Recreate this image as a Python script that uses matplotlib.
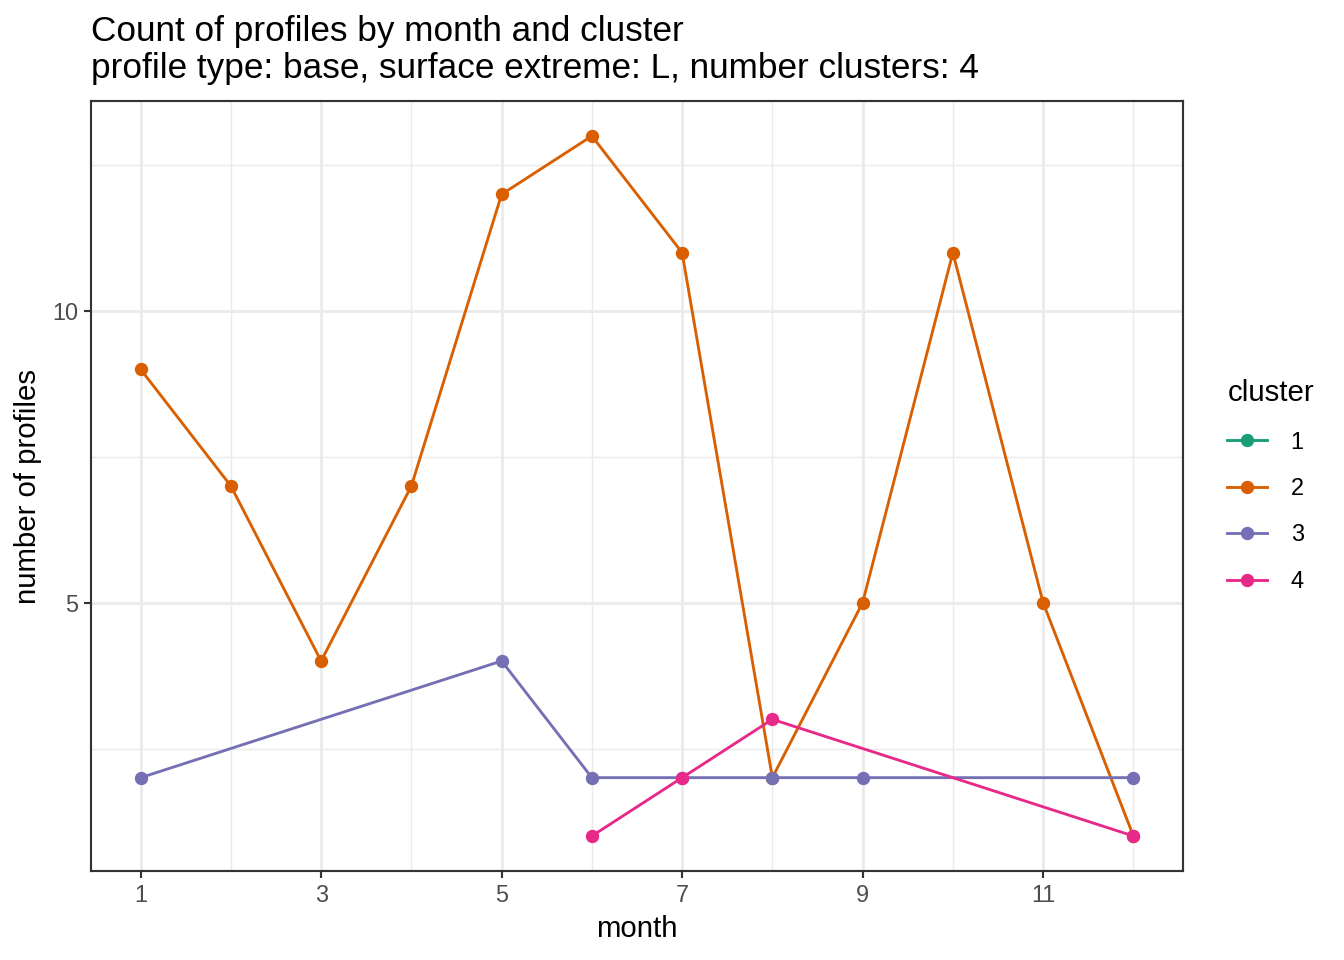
import matplotlib.pyplot as plt
from matplotlib.lines import Line2D
import numpy as np

months_2 = [1, 2, 3, 4, 5, 6, 7, 8, 9, 10, 11, 12]
count_2 = [9, 7, 4, 7, 12, 13, 11, 2, 5, 11, 5, 1]
months_3 = [1, 5, 6, 7, 8, 9, 12]
count_3 = [2, 4, 2, 2, 2, 2, 2]
months_4 = [6, 7, 8, 12]
count_4 = [1, 2, 3, 1]
clusters = ['1', '2', '3', '4']
colors = ['#1B9E77', '#D95F02', '#7570B3', '#E7298A']

plt.rcParams['font.family'] = ['Liberation Sans', 'DejaVu Sans']

fig = plt.figure(figsize=(7, 5), dpi=192, facecolor='white')
ax = fig.add_axes([91/1344, 1-871/960, (1183-91)/1344, (871-101)/960])

series = [(months_2, count_2, colors[1]), (months_3, count_3, colors[2]), (months_4, count_4, colors[3])]
for x, y, c in series:
    ax.plot(x, y, color=c, lw=1.07, marker='o', ms=4.0, zorder=3)

ax.set_xlim(0.45, 12.55)
ax.set_ylim(0.4, 13.6)
ax.set_xticks([1, 3, 5, 7, 9, 11])
ax.set_xticks([2, 4, 6, 8, 10, 12], minor=True)
ax.set_yticks([5, 10])
ax.set_yticks([2.5, 7.5, 12.5], minor=True)
ax.grid(which='major', color='#EBEBEB', lw=1.07)
ax.grid(which='minor', color='#EBEBEB', lw=0.53)
ax.set_axisbelow(True)
for s in ax.spines.values():
    s.set_color('#333333')
    s.set_linewidth(0.8)
ax.tick_params(which='major', length=2.7, width=0.8, color='#333333', labelsize=8.8, labelcolor='#4D4D4D', pad=2)
ax.tick_params(which='minor', length=0)

ax.set_xlabel('month', fontsize=11, labelpad=3)
ax.set_ylabel('number of profiles', fontsize=11, labelpad=4)
fig.text(91/1344, 1-50/960, 'Count of profiles by month and cluster\nprofile type: base, surface extreme: L, number clusters: 4',
         fontsize=13.2, ha='left', va='center', linespacing=1.15)

handles = [Line2D([0], [0], color=c, lw=1.07, marker='o', ms=4.0) for c in colors]
leg = ax.legend(handles, clusters, title='cluster', loc='center left', bbox_to_anchor=(1.032, 0.5),
                frameon=False, fontsize=8.8, title_fontsize=11, handlelength=1.7, labelspacing=1.0,
                handletextpad=1.0, borderaxespad=0)
leg._legend_box.align = 'left'

fig.savefig('out.png', dpi=192)
